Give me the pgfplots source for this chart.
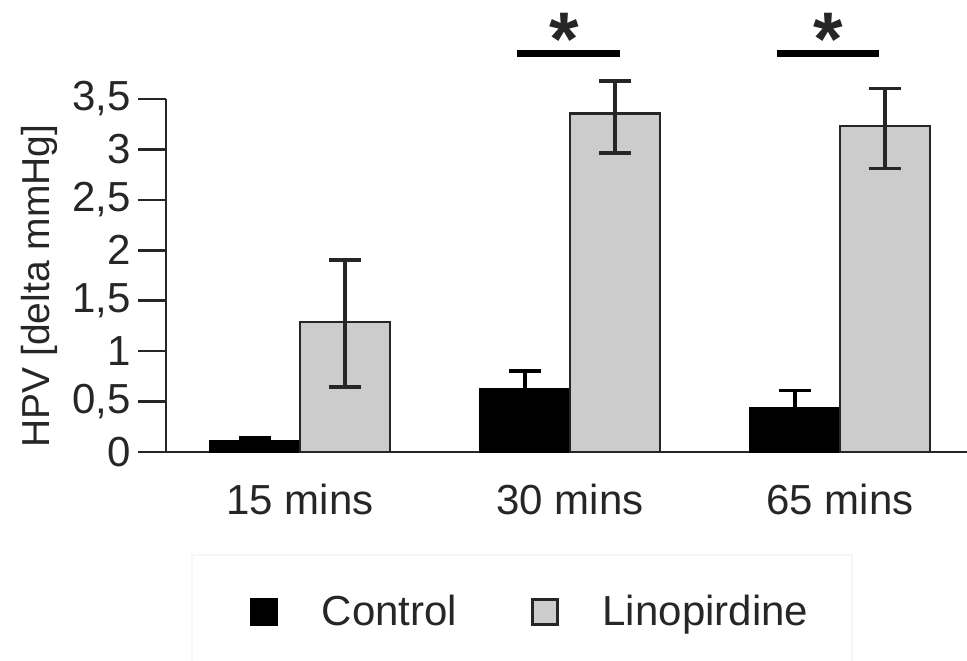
\documentclass[border=0pt]{standalone}
\usepackage{pgfplots}
\pgfplotsset{compat=1.18}
\usepackage{fontspec}
\setmainfont{Liberation Sans}
\newcommand\f{\fontsize{21}{24}\selectfont}
\newcommand\fy{\fontsize{19.5}{23}\selectfont}
\begin{document}
\begin{tikzpicture}
\begin{axis}[
  at={(0,0)}, anchor=south west,
  scale only axis, width=400.5pt, height=176.5pt,
  xmin=-0.4963, xmax=2.4704, ymin=0, ymax=3.5,
  ybar=0pt, bar width=45pt,
  axis x line=bottom, axis y line=left,
  axis line style={-, line width=1.3pt, black!85},
  xtick={0,1,2}, xticklabels={15 mins,30 mins,65 mins},
  x tick style={draw=none},
  ytick={0,0.5,1,1.5,2,2.5,3,3.5},
  y tick style={line width=1.3pt, black!85},
  tick align=outside, major tick length=14pt,
  /pgf/number format/use comma,
  /pgf/number format/assume math mode=true,
  ticklabel style={font=\f, text=black!85},
  xticklabel style={yshift=1.5pt},
  ylabel={HPV [delta mmHg]},
  ylabel style={font=\fy, text=black!85, at={(axis description cs:-0.158,0.470)}, anchor=center},
  clip=false,
  legend columns=2,
  legend style={at={(0.1049,-0.4533)}, anchor=west, draw=none, fill=none, inner sep=0pt,
    font=\f, text=black!85,
    /tikz/every odd column/.style={column sep=20pt},
    /tikz/every even column/.style={column sep=35pt}},
  sq legend/.style={legend image code/.code={\draw[##1, line width=1.2pt] (0pt,-6.25pt) rectangle (12.5pt,6.25pt);}},
]
\addplot[fill=black, draw=black, line width=1.3pt, sq legend,
  error bars/.cd, y dir=plus, y explicit,
  error bar style={line width=1.8pt, black},
  error mark options={rotate=90, line width=1.8pt, mark size=8pt, black}]
  coordinates {(0,0.11) +- (0,0.03) (1,0.624) +- (0,0.182) (2,0.43) +- (0,0.18)};
\addlegendentry{Control}
\addplot[fill=black!20, draw=black!85, line width=1.3pt, sq legend,
  error bars/.cd, y dir=both, y explicit,
  error bar style={line width=1.8pt, black!85},
  error mark options={rotate=90, line width=1.8pt, mark size=8pt, black!85}]
  coordinates {(0,1.288) += (0,0.615) -= (0,0.644)
               (1,3.357) += (0,0.323) -= (0,0.390)
               (2,3.232) += (0,0.373) -= (0,0.420)};
\addlegendentry{Linopirdine}
\draw[line width=3.5pt, black] (axis cs:0.804,3.954) -- (axis cs:1.185,3.954);
\draw[line width=3.5pt, black] (axis cs:1.767,3.954) -- (axis cs:2.144,3.954);
\node[font=\fontsize{38}{38}\selectfont\bfseries, inner sep=0pt, anchor=north, black!85] at (axis cs:0.98,4.35) {*};
\node[font=\fontsize{38}{38}\selectfont\bfseries, inner sep=0pt, anchor=north, black!85] at (axis cs:1.956,4.35) {*};
\end{axis}
\draw[black!3, line width=1pt] (13pt,-51.5pt) rectangle (343pt,-120pt);
\pgfresetboundingbox
\useasboundingbox (-83pt,-104pt) rectangle (400.5pt,226pt);
\end{tikzpicture}
\end{document}
